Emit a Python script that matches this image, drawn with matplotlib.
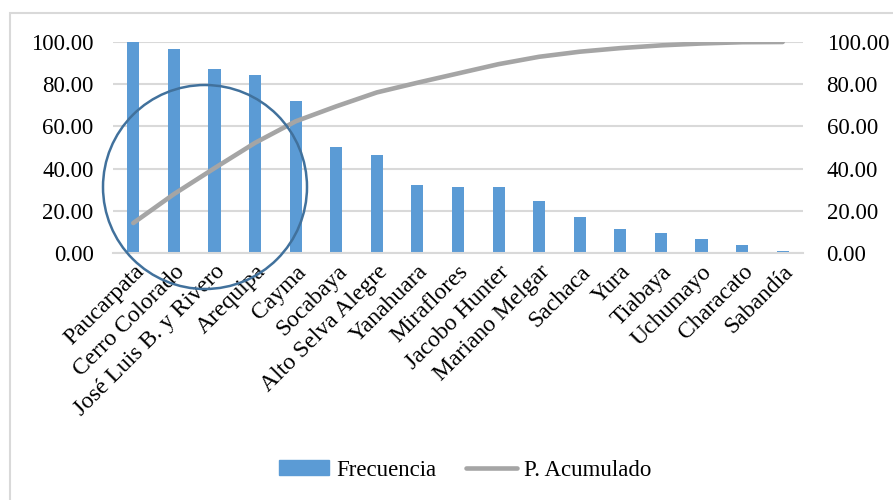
import matplotlib.pyplot as plt
from matplotlib.patches import Circle, Rectangle
from matplotlib.lines import Line2D
import numpy as np

plt.rcParams['font.family'] = ['Liberation Serif', 'DejaVu Serif']

# distritos y frecuencias
distritos = ['Paucarpata', 'Cerro Colorado', 'José Luis B. y Rivero', 'Arequipa',
             'Cayma', 'Socabaya', 'Alto Selva Alegre', 'Yanahuara', 'Miraflores',
             'Jacobo Hunter', 'Mariano Melgar', 'Sachaca', 'Yura', 'Tiabaya',
             'Uchumayo', 'Characato', 'Sabandía']
frecuencia = [100.0, 96.7, 87.2, 84.4, 72.0, 50.2, 46.4, 32.2, 31.3,
              31.3, 24.6, 17.1, 11.4, 9.5, 6.6, 3.8, 0.9]
acumulado = [14.2, 27.9, 40.2, 52.2, 62.4, 69.5, 76.1, 80.7, 85.1,
             89.5, 93.0, 95.4, 97.1, 98.4, 99.3, 99.9, 100.0]
yticks = [0, 20, 40, 60, 80, 100]
fs = 16.5

fig = plt.figure(figsize=(8.93, 5.0), dpi=100)

# marco del grafico
fig.patches.append(Rectangle((10 / 893, -0.1), 1.2, 1.1 - 13 / 500,
                             transform=fig.transFigure, fill=False,
                             edgecolor='#D9D9D9', linewidth=1.5))

ax = fig.add_axes([113 / 893, 1 - 253 / 500, 690 / 893, 211 / 500])
x = np.arange(len(distritos))
ax.bar(x, frecuencia, width=0.3, color='#5B9BD5', zorder=2)
ax.set_xlim(-0.5, len(distritos) - 0.5)
ax.set_ylim(0, 100)
ax.set_yticks(yticks)
ax.set_yticklabels([f'{v:.2f}' for v in yticks], fontsize=fs)
ax.yaxis.grid(True, color='#D9D9D9', linewidth=1.5, zorder=0)
ax.set_axisbelow(True)
for s in ['top', 'right', 'left']:
    ax.spines[s].set_visible(False)
ax.spines['bottom'].set_color('#D9D9D9')
ax.spines['bottom'].set_linewidth(1.5)
ax.tick_params(axis='y', length=0, pad=14)
ax.set_xticks(x)
ax.set_xticklabels(distritos, rotation=45, ha='right', rotation_mode='anchor',
                   fontsize=17)
ax.tick_params(axis='x', length=0, pad=6)

ax2 = ax.twinx()
ax2.plot(x, acumulado, color='#A5A5A5', linewidth=3.3, solid_capstyle='round',
         zorder=3)
ax2.set_ylim(0, 100)
ax2.set_yticks(yticks)
ax2.set_yticklabels([f'{v:.2f}' for v in yticks], fontsize=fs)
ax2.tick_params(axis='y', length=0, pad=17)
for s in ax2.spines.values():
    s.set_visible(False)

# circulo resaltando los primeros distritos
circ = Circle((205, 500 - 187), 102, transform=None, fill=False,
              edgecolor='#41719C', linewidth=1.8, zorder=5)
fig.patches.append(circ)

handles = [Rectangle((0, 0), 1, 1, color='#5B9BD5'),
           Line2D([0], [0], color='#A5A5A5', linewidth=3.3, solid_capstyle='round')]
fig.legend(handles, ['Frecuencia', 'P. Acumulado'], loc='center',
           bbox_to_anchor=(465 / 893, 1 - 470 / 500), ncol=2, frameon=False,
           fontsize=fs, handlelength=2.2, handleheight=0.6, handletextpad=0.3,
           columnspacing=1.3)

fig.savefig('out.png', dpi=100)
